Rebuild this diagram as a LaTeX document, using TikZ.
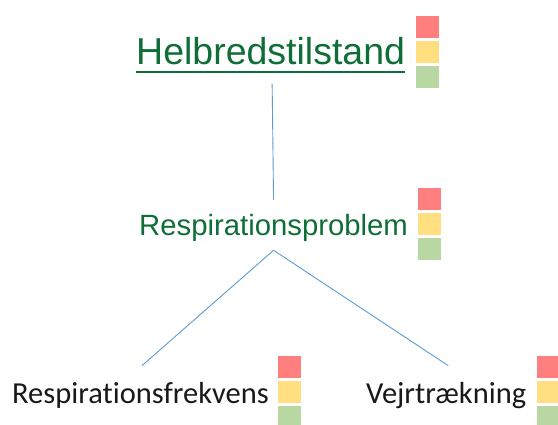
\documentclass[tikz,border=0pt]{standalone}
\usepackage{fontspec}
\setmainfont{Liberation Sans}
\newfontfamily\lightfont[Ligatures=NoCommon]{Carlito}
\usetikzlibrary{positioning,calc}
\usepackage{xcolor}

\definecolor{headgreen}{HTML}{0F6E38}
\definecolor{linkblue}{HTML}{5B9BD5}
\definecolor{lightred}{HTML}{FF7F7F}
\definecolor{lightyellow}{HTML}{FFDF80}
\definecolor{lightgreen}{HTML}{B8D7A3}

\tikzset{
    lvl/.style={inner sep=0pt, anchor=base west},
    link/.style={draw=linkblue, line width=0.9pt}
}

% three status squares centred on a coordinate
\newcommand{\lights}[1]{%
    \foreach \c [count=\i from -1] in {lightred,lightyellow,lightgreen} {
        \fill[\c] ($(#1)+(-11.5,\i*25-11)$) rectangle ++(23,22);
    }
}

\begin{document}
\begin{tikzpicture}[x=1pt,y=-1pt]
    \useasboundingbox (0,0) rectangle (558,425);

    % top level
    \node[lvl, text=headgreen, font=\fontsize{37.5}{40}\selectfont] (health) at (136,65) {Helbredstilstand};
    \draw[headgreen, line width=2.8pt] ($(health.base west)+(0,7)$) -- ($(health.base east)+(0,7)$);
    \coordinate (healthlight) at ($(health.base east)+(22,-13)$);
    \lights{healthlight}

    % middle level
    \node[lvl, text=headgreen, font=\fontsize{29.3}{32}\selectfont] (resp) at (139,236) {Respirationsproblem};
    \coordinate (resplight) at ($(resp.base east)+(21,-11.5)$);
    \lights{resplight}

    % bottom level
    \node[lvl, text=black!90, font=\lightfont\fontsize{30.5}{33}\selectfont] (freq) at (12,404) {Respirationsfrekvens};
    \coordinate (freqlight) at ($(freq.base east)+(20,-11.5)$);
    \lights{freqlight}

    \node[lvl, text=black!90, font=\lightfont\fontsize{30.5}{33}\selectfont] (breath) at (366,404) {Vejrtrækning};
    \coordinate (breathlight) at ($(breath.base east)+(22,-11.5)$);
    \lights{breathlight}

    % connectors
    \coordinate (split) at ($(resp.south)+(0,8)$);
    \draw[link] ($(health.south)+(1.5,18)$) -- ($(resp.north)+(0,-15)$);
    \draw[link] (split) -- ($(freq.north)+(1.5,-17)$);
    \draw[link] (split) -- ($(breath.north)+(2,-17)$);
\end{tikzpicture}
\end{document}
